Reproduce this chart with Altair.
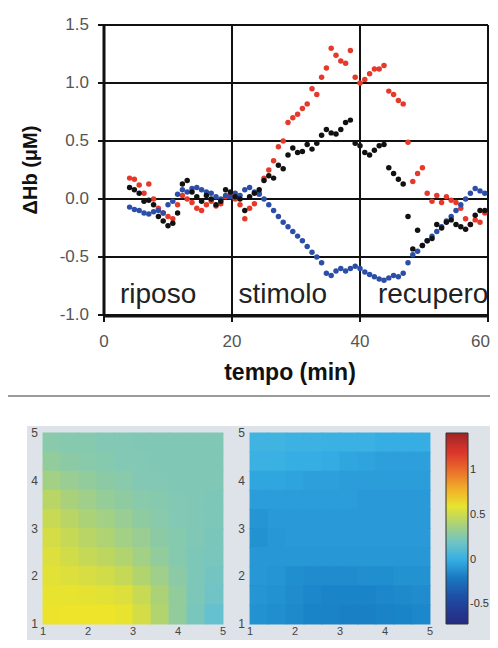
import altair as alt
import pandas as pd

# ---------------- top chart data ----------------
TIME = [4.0, 4.75, 5.5, 6.25, 7.0, 7.75, 8.5, 9.25, 10.0, 10.75,
        11.5, 12.25, 13.0, 13.75, 14.5, 15.25, 16.0, 16.75, 17.5, 18.25,
        19.0, 19.75, 20.5, 21.25, 22.0, 22.75, 23.5, 24.25, 25.0, 25.75,
        26.5, 27.25, 28.0, 28.75, 29.5, 30.25, 31.0, 31.75, 32.5, 33.25,
        34.0, 34.75, 35.5, 36.25, 37.0, 37.75, 38.5, 39.25, 40.0, 40.75,
        41.5, 42.25, 43.0, 43.75, 44.5, 45.25, 46.0, 46.75, 47.5, 48.25,
        49.0, 49.75, 50.5, 51.25, 52.0, 52.75, 53.5, 54.25, 55.0, 55.75,
        56.5, 57.25, 58.0, 58.75, 59.5]

RED = [0.18, 0.17, 0.12, 0.05, 0.13, 0.00, -0.08, -0.12, -0.15, -0.17,
       -0.05, 0.03, 0.00, -0.03, -0.08, -0.10, -0.05, -0.02, -0.06, -0.04,
       0.02, 0.03, 0.00, -0.05, -0.17, -0.08, -0.04, 0.05, 0.18, 0.25,
       0.33, 0.45, 0.50, 0.66, 0.70, 0.73, 0.78, 0.82, 0.95, 0.90,
       1.05, 1.13, 1.30, 1.24, 1.19, 1.17, 1.28, 1.05, 1.00, 1.03,
       1.08, 1.12, 1.12, 1.15, 0.93, 0.90, 0.85, 0.82, 0.49, 0.15,
       0.22, 0.27, 0.05, -0.02, 0.03, -0.03, 0.02, -0.01, -0.03, -0.08,
       -0.17, -0.22, -0.18, -0.20, -0.12]

BLACK = [0.10, 0.08, 0.05, -0.02, -0.01, -0.05, -0.15, -0.19, -0.23, -0.21,
         -0.12, 0.13, 0.16, 0.06, 0.02, -0.02, 0.03, 0.00, -0.05, -0.02,
         0.08, 0.06, 0.02, 0.00, -0.10, 0.02, 0.05, 0.08, 0.16, 0.20,
         0.18, 0.29, 0.26, 0.38, 0.44, 0.40, 0.41, 0.47, 0.43, 0.48,
         0.55, 0.60, 0.57, 0.56, 0.60, 0.66, 0.68, 0.48, 0.46, 0.40,
         0.38, 0.42, 0.46, 0.47, 0.27, 0.22, 0.17, 0.13, -0.15, -0.43,
         -0.27, -0.40, -0.36, -0.34, -0.22, -0.25, -0.20, -0.18, -0.22, -0.24,
         -0.26, -0.22, -0.14, -0.10, -0.10]

BLUE = [-0.07, -0.09, -0.10, -0.12, -0.13, -0.11, -0.10, -0.12, -0.05, -0.02,
        0.04, 0.08, 0.06, 0.09, 0.10, 0.08, 0.06, 0.05, 0.02, 0.00,
        0.03, 0.02, 0.05, 0.03, 0.08, 0.10, 0.06, 0.04, 0.00, -0.05,
        -0.10, -0.15, -0.20, -0.24, -0.28, -0.32, -0.36, -0.41, -0.46, -0.50,
        -0.55, -0.64, -0.66, -0.62, -0.60, -0.62, -0.60, -0.58, -0.60, -0.63,
        -0.65, -0.67, -0.69, -0.70, -0.68, -0.66, -0.67, -0.64, -0.55, -0.48,
        -0.45, -0.40, -0.36, -0.32, -0.28, -0.24, -0.19, -0.15, -0.10, -0.05,
        0.00, 0.05, 0.09, 0.07, 0.05]

Y_TICKS = [-1.0, -0.5, 0.0, 0.5, 1.0, 1.5]
Y_LABELS = ["-1.0", "-0.5", "0.0", "0.5", "1.0", "1.5"]
X_TICKS = [0, 20, 40, 60]
X_LABELS = ["0", "20", "40", "60"]
X_GRID = [20, 40, 60]
PHASES = ["riposo", "stimolo", "recupero"]
PHASE_T = [2.5, 21.0, 42.8]
PHASE_V = [-0.9, -0.9, -0.9]
X_TITLE = "tempo (min)"
Y_TITLE = "ΔHb (μM)"

# ---------------- heatmap data ----------------
HM_X = [1.2, 1.6, 2.0, 2.4, 2.8, 3.2, 3.6, 4.0, 4.4, 4.8]
HM_Y = [4.8, 4.4, 4.0, 3.6, 3.2, 2.8, 2.4, 2.0, 1.6, 1.2]  # rows, top to bottom

HM_LEFT = [
    [0.29, 0.28, 0.28, 0.27, 0.27, 0.26, 0.26, 0.26, 0.26, 0.26],
    [0.32, 0.30, 0.29, 0.28, 0.27, 0.27, 0.26, 0.26, 0.26, 0.26],
    [0.37, 0.34, 0.32, 0.30, 0.29, 0.27, 0.27, 0.26, 0.26, 0.26],
    [0.44, 0.39, 0.36, 0.33, 0.31, 0.29, 0.28, 0.27, 0.26, 0.25],
    [0.49, 0.44, 0.40, 0.37, 0.34, 0.31, 0.29, 0.27, 0.26, 0.25],
    [0.53, 0.48, 0.44, 0.41, 0.37, 0.34, 0.30, 0.28, 0.26, 0.24],
    [0.56, 0.52, 0.48, 0.45, 0.42, 0.37, 0.32, 0.28, 0.25, 0.23],
    [0.58, 0.56, 0.54, 0.52, 0.48, 0.42, 0.36, 0.30, 0.25, 0.21],
    [0.60, 0.60, 0.59, 0.58, 0.56, 0.49, 0.40, 0.32, 0.25, 0.19],
    [0.61, 0.62, 0.62, 0.62, 0.60, 0.53, 0.42, 0.32, 0.23, 0.14],
]

HM_RIGHT = [
    [0.03, 0.03, 0.02, 0.02, 0.01, 0.01, 0.01, 0.00, 0.00, 0.00],
    [0.01, 0.01, 0.00, 0.00, -0.01, -0.03, -0.04, -0.05, -0.05, -0.05],
    [-0.03, -0.03, -0.04, -0.05, -0.05, -0.06, -0.06, -0.06, -0.06, -0.06],
    [-0.06, -0.06, -0.06, -0.06, -0.06, -0.06, -0.07, -0.07, -0.07, -0.07],
    [-0.09, -0.07, -0.07, -0.07, -0.07, -0.07, -0.07, -0.07, -0.07, -0.07],
    [-0.10, -0.08, -0.07, -0.07, -0.07, -0.07, -0.07, -0.07, -0.07, -0.07],
    [-0.08, -0.08, -0.08, -0.08, -0.08, -0.08, -0.08, -0.08, -0.08, -0.08],
    [-0.08, -0.09, -0.11, -0.12, -0.12, -0.12, -0.11, -0.11, -0.10, -0.10],
    [-0.09, -0.10, -0.12, -0.14, -0.15, -0.15, -0.15, -0.14, -0.13, -0.12],
    [-0.10, -0.11, -0.13, -0.15, -0.16, -0.17, -0.17, -0.16, -0.15, -0.14],
]

HM_TICKS = [1, 2, 3, 4, 5]
HM_LABELS = ["1", "2", "3", "4", "5"]
CB_TICKS = [-0.5, 0, 0.5, 1]
CB_DOMAIN = [-0.72, -0.55, -0.35, -0.15, 0.0, 0.12, 0.27, 0.45, 0.64, 0.88, 1.18, 1.42]
CB_COLORS = ['#252c80', '#243a96', '#1a58ac', '#1a84c8', '#36aee4', '#60c0d4',
             '#82c8b4', '#bcd660', '#f4e622', '#f0902c', '#e0382c', '#a02424']

FONT = "Liberation Sans"
INK = "#111111"
W, H = 482, 632

# ---------------- top chart ----------------
xs = alt.Scale(domain=[0, 60], range=[96, 480], nice=False, zero=False)
ys = alt.Scale(domain=[-1, 1.5], range=[307, 17], nice=False, zero=False)


def X(field):
    return alt.X(field, scale=xs, axis=None)


def Y(field):
    return alt.Y(field, scale=ys, axis=None)


hgrid = alt.Chart(pd.DataFrame({"g": Y_TICKS})).transform_calculate(
    a="0", b="60").mark_rule(color=INK, strokeWidth=2).encode(
    y=Y("g:Q"), x=X("a:Q"), x2="b:Q")
vgrid = alt.Chart(pd.DataFrame({"g": X_GRID})).transform_calculate(
    a="-1", b="1.5").mark_rule(color=INK, strokeWidth=2).encode(
    x=X("g:Q"), y=Y("a:Q"), y2="b:Q")

yline = alt.Chart(pd.DataFrame({"g": [0]})).transform_calculate(
    a="-1", b="1.5").mark_rule(color=INK, strokeWidth=3).encode(
    x=X("g:Q"), y=Y("a:Q"), y2="b:Q")
xline = alt.Chart(pd.DataFrame({"g": [-1.0]})).transform_calculate(
    a="0", b="60").mark_rule(color=INK, strokeWidth=3, yOffset=1).encode(
    y=Y("g:Q"), x=X("a:Q"), x2="b:Q")

yticks = alt.Chart(pd.DataFrame({"v": Y_TICKS})).transform_calculate(
    a="0").mark_rule(color=INK, strokeWidth=2, xOffset=-6).encode(
    y=Y("v:Q"), x=X("a:Q"), x2="a:Q")
xticks = alt.Chart(pd.DataFrame({"t": X_TICKS})).transform_calculate(
    a="-1").mark_rule(color=INK, strokeWidth=2, y2Offset=7).encode(
    x=X("t:Q"), y=Y("a:Q"), y2="a:Q")

ylabels = alt.Chart(pd.DataFrame({"v": Y_TICKS, "lab": Y_LABELS})).transform_calculate(
    a="0").mark_text(align="right", baseline="middle", fontSize=17, font=FONT,
                     color="#555", dx=-15).encode(y=Y("v:Q"), x=X("a:Q"), text="lab:N")
xlab_df = pd.DataFrame({"t": X_TICKS, "lab": X_LABELS})
xlabels = alt.Chart(xlab_df).transform_filter("datum.t < 60").transform_calculate(
    a="-1").mark_text(align="center", baseline="top", fontSize=17, font=FONT,
                      color="#555", dy=19).encode(x=X("t:Q"), y=Y("a:Q"), text="lab:N")
xlabel_last = alt.Chart(xlab_df).transform_filter("datum.t >= 60").transform_calculate(
    a="-1").mark_text(align="right", baseline="top", fontSize=17, font=FONT,
                      color="#555", dx=2, dy=19).encode(x=X("t:Q"), y=Y("a:Q"), text="lab:N")

xtitle = alt.Chart(pd.DataFrame({"lab": [X_TITLE]})).transform_calculate(
    a="30", b="-1").mark_text(align="center", baseline="top", fontSize=23, font=FONT,
                              fontWeight="bold", color=INK, dx=-6, dy=47).encode(
    x=X("a:Q"), y=Y("b:Q"), text="lab:N")
ytitle = alt.Chart(pd.DataFrame({"lab": [Y_TITLE]})).transform_calculate(
    a="0", b="0.25").mark_text(align="center", baseline="middle", fontSize=20, font=FONT,
                               fontWeight="bold", color=INK, angle=270, xOffset=-73).encode(
    x=X("a:Q"), y=Y("b:Q"), text="lab:N")


def series(vals, color):
    df = pd.DataFrame({"t": TIME, "v": vals})
    return alt.Chart(df).mark_circle(size=30, color=color, opacity=1).encode(
        x=X("t:Q"), y=Y("v:Q"))


red = series(RED, "#e5392b")
blue = series(BLUE, "#2c4ea8")
black = series(BLACK, "#111111")

phase_txt = alt.Chart(pd.DataFrame({"t": PHASE_T, "v": PHASE_V, "lab": PHASES})).mark_text(
    align="left", baseline="alphabetic", fontSize=28, font=FONT, color="#222").encode(
    x=X("t:Q"), y=Y("v:Q"), text="lab:N")

top = alt.layer(hgrid, vgrid, red, blue, black, phase_txt, yline, xline,
                yticks, xticks, ylabels, xlabels, xlabel_last, xtitle, ytitle)

# ---------------- heatmaps ----------------
HM_TOP, HM_BOT = 425, 616
cscale = alt.Scale(domain=CB_DOMAIN, range=CB_COLORS, type="linear", interpolate="rgb")
legend = alt.Legend(orient="none", legendX=438, legendY=HM_TOP,
                    gradientLength=HM_BOT - HM_TOP, gradientThickness=22,
                    direction="vertical", title=None, values=CB_TICKS,
                    labelFontSize=11, labelColor="#333", labelFont=FONT, labelOffset=2,
                    labelExpr="'' + datum.value", gradientStrokeColor="#333",
                    gradientStrokeWidth=1, padding=0)


def heat(grid, x_range):
    rows = []
    for i, yv in enumerate(HM_Y):
        for j, xv in enumerate(HM_X):
            rows.append({"hx": xv, "hy": yv, "val": grid[i][j]})
    df = pd.DataFrame(rows)
    hxs = alt.Scale(domain=[1, 5], range=x_range, nice=False, zero=False)
    hys = alt.Scale(domain=[1, 5], range=[HM_BOT, HM_TOP], nice=False, zero=False)
    cells = alt.Chart(df).transform_calculate(
        x0="datum.hx - 0.21", x1="datum.hx + 0.21",
        y0="datum.hy - 0.21", y1="datum.hy + 0.21").mark_rect().encode(
        x=alt.X("x0:Q", scale=hxs, axis=None), x2="x1:Q",
        y=alt.Y("y0:Q", scale=hys, axis=None), y2="y1:Q",
        color=alt.Color("val:Q", scale=cscale, legend=legend))
    lab_df = pd.DataFrame({"k": HM_TICKS, "lab": HM_LABELS})
    xl = alt.Chart(lab_df).transform_calculate(one="1").mark_text(
        align="center", baseline="top", fontSize=11, font=FONT, color="#444", dy=2).encode(
        x=alt.X("k:Q", scale=hxs, axis=None), y=alt.Y("one:Q", scale=hys, axis=None),
        text="lab:N")
    yl = alt.Chart(lab_df).transform_calculate(one="1").mark_text(
        align="right", baseline="middle", fontSize=12, font=FONT, color="#444", dx=-5).encode(
        x=alt.X("one:Q", scale=hxs, axis=None), y=alt.Y("k:Q", scale=hys, axis=None),
        text="lab:N")
    return alt.layer(cells, xl, yl)


hm1 = heat(HM_LEFT, [35, 215])
hm2 = heat(HM_RIGHT, [242, 422])

# ---------------- decoration ----------------
one = pd.DataFrame({"k": [0]})
bg = alt.Chart(one).mark_rect(color="#dde3e8").encode(
    x=alt.value(19), x2=alt.value(W), y=alt.value(418), y2=alt.value(H))
sep = alt.Chart(one).mark_rule(color="#7a7a7a", strokeWidth=1.5).encode(
    x=alt.value(0), x2=alt.value(W), y=alt.value(388))

chart = alt.layer(bg, sep, top, hm1, hm2).resolve_scale(
    x="independent", y="independent").properties(
    width=W, height=H, padding=0,
    autosize=alt.AutoSizeParams(type="none")).configure_view(strokeWidth=0)

chart.save("out.html", embed_options={"renderer": "svg", "actions": False})
